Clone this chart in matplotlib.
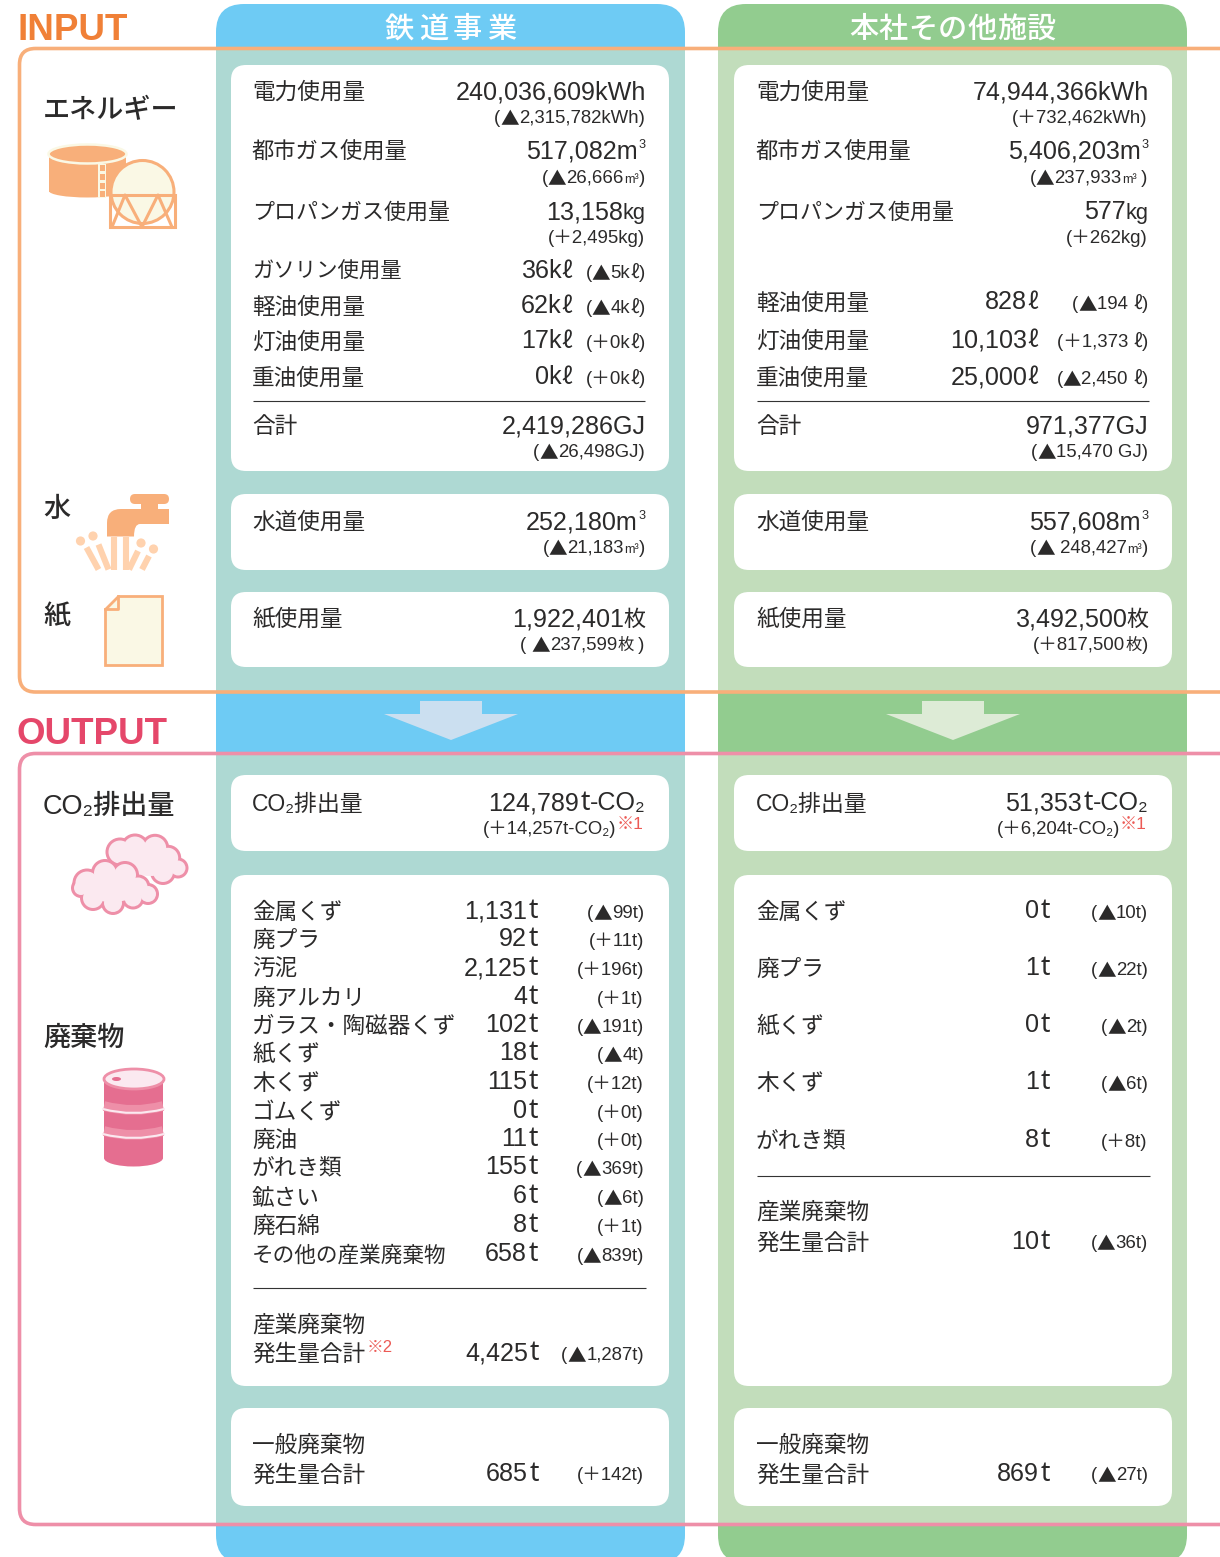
import re
import matplotlib
matplotlib.use("Agg")
import matplotlib.pyplot as plt
from matplotlib.patches import FancyBboxPatch, Rectangle, Polygon, Circle, Ellipse, PathPatch
from matplotlib.path import Path

# ---------- data ----------
headers = ["鉄道事業", "本社その他施設"]
energy_labels_rail = ["電力使用量", "都市ガス使用量", "プロパンガス使用量", "ガソリン使用量", "軽油使用量", "灯油使用量", "重油使用量", "合計"]
energy_values_rail = ["240,036,609kWh", "517,082m³", "13,158kg", "36kℓ", "62kℓ", "17kℓ", "0kℓ", "2,419,286GJ"]
energy_diffs_rail = ["(▲2,315,782kWh)", "(▲26,666m³)", "(＋2,495kg)", "(▲5kℓ)", "(▲4kℓ)", "(＋0kℓ)", "(＋0kℓ)", "(▲26,498GJ)"]
energy_labels_office = ["電力使用量", "都市ガス使用量", "プロパンガス使用量", "軽油使用量", "灯油使用量", "重油使用量", "合計"]
energy_values_office = ["74,944,366kWh", "5,406,203m³", "577kg", "828ℓ", "10,103ℓ", "25,000ℓ", "971,377GJ"]
energy_diffs_office = ["(＋732,462kWh)", "(▲237,933m³ )", "(＋262kg)", "(▲194 ℓ)", "(＋1,373 ℓ)", "(▲2,450 ℓ)", "(▲15,470 GJ)"]
water_label = "水道使用量"
water_values = ["252,180m³", "557,608m³"]
water_diffs = ["(▲21,183m³)", "(▲ 248,427m³)"]
paper_label = "紙使用量"
paper_values = ["1,922,401枚", "3,492,500枚"]
paper_diffs = ["( ▲237,599枚 )", "(＋817,500枚)"]
co2_label = "CO₂排出量"
co2_values = ["124,789t-CO₂", "51,353t-CO₂"]
co2_diffs = ["(＋14,257t-CO₂)", "(＋6,204t-CO₂)"]
co2_note = "※1"
waste_labels_rail = ["金属くず", "廃プラ", "汚泥", "廃アルカリ", "ガラス・陶磁器くず", "紙くず", "木くず", "ゴムくず", "廃油", "がれき類", "鉱さい", "廃石綿", "その他の産業廃棄物"]
waste_values_rail = ["1,131t", "92t", "2,125t", "4t", "102t", "18t", "115t", "0t", "11t", "155t", "6t", "8t", "658t"]
waste_diffs_rail = ["(▲99t)", "(＋11t)", "(＋196t)", "(＋1t)", "(▲191t)", "(▲4t)", "(＋12t)", "(＋0t)", "(＋0t)", "(▲369t)", "(▲6t)", "(＋1t)", "(▲839t)"]
waste_labels_office = ["金属くず", "廃プラ", "紙くず", "木くず", "がれき類"]
waste_values_office = ["0t", "1t", "0t", "1t", "8t"]
waste_diffs_office = ["(▲10t)", "(▲22t)", "(▲2t)", "(▲6t)", "(＋8t)"]
ind_title = ["産業廃棄物", "発生量合計"]
ind_values = ["4,425t", "10t"]
ind_diffs = ["(▲1,287t)", "(▲36t)"]
gen_title = ["一般廃棄物", "発生量合計"]
gen_values = ["685t", "869t"]
gen_diffs = ["(＋142t)", "(▲27t)"]
side_labels = ["エネルギー", "水", "紙", "CO₂排出量", "廃棄物"]

# ---------- layout ----------
W, H = 1220, 1557
fig = plt.figure(figsize=(W / 100, H / 100), dpi=100, facecolor="white")
ax = fig.add_axes([0, 0, 1, 1])
ax.set_xlim(0, W)
ax.set_ylim(H, 0)
ax.axis("off")
INK = "#2b2a2a"
LAT = ["Liberation Sans", "Noto Sans CJK JP"]
CJK = ["Noto Sans CJK JP", "DejaVu Sans"]
ORANGE, PINK = "#F8AF7A", "#EE8FA8"
CREAM = "#FAF8E5"
LIGHTPINK = "#FBE9F0"
LBL, BIG, SMALL = 16.3, 18.1, 13.4
# kana is set tighter in the reference, so these labels run a little narrower
LABEL_SCALE = {"プロパンガス使用量": 0.972, "その他の産業廃棄物": 0.955, "都市ガス使用量": 0.985, "ガソリン使用量": 0.945}
rend = fig.canvas.get_renderer()


def px(pt):
    return pt * 100 / 72


def label(x, y, s, size=LBL, color=INK, weight="normal"):
    fam = LAT if s.startswith("CO") else CJK
    sz = size * LABEL_SCALE.get(s, 1)
    ax.text(x - 1, y + 0.38 * px(size), s, family=fam, fontsize=sz, color=color, weight=weight, va="baseline", ha="left", zorder=6)


def value(xr, y, s, size=BIG, color=INK):
    """Right aligned numeric text; symbols and units the reference sets differently become their own run."""
    big = size >= BIG - 0.1
    pattern = r"(▲|ℓ|枚|kg$|³|t(?=-CO)|t$)" if big else r"(▲|ℓ|枚|m³)"
    parts = [p for p in re.split(pattern, s) if p]
    base = y + 0.358 * px(size) - (0.7 if big else 0.0)
    x = xr + 0.8
    for p in reversed(parts):
        fam, scale, dy, pad = LAT, 1.0, 0.0, 0.0
        txt = p
        if p == "▲":
            fam, dy = CJK, -0.13 * px(size)
        elif p == "ℓ":
            fam, scale = CJK, 0.92 if big else 1.0
        elif p == "枚":
            fam, scale = CJK, 0.88
        elif p == "m³":
            scale = 0.68
        elif p == "kg":
            scale = 0.87
        elif p == "³":
            txt, scale, dy, pad = "3", 0.5, 0.4 * px(size), 1.5
        elif p == "t" and big:
            fam, scale, pad = ["Noto Sans"], 1.05, 1.4
        t = ax.text(x, base - dy, txt, family=fam, fontsize=size * scale, color=color, ha="right", va="baseline", zorder=6)
        x -= t.get_window_extent(rend).width + pad


def box(x0, y0, x1, y1, r=15, fc="white", z=3):
    ax.add_patch(FancyBboxPatch((x0, y0), x1 - x0, y1 - y0, boxstyle=f"round,pad=0,rounding_size={r}",
                                fc=fc, ec="none", zorder=z))


def frame(y0, y1, color, r=16, xl=19.5):
    verts = [(W + 5, y0), (xl + r, y0), (xl, y0), (xl, y0 + r), (xl, y1 - r), (xl, y1), (xl + r, y1), (W + 5, y1)]
    codes = [Path.MOVETO, Path.LINETO, Path.CURVE3, Path.CURVE3, Path.LINETO, Path.CURVE3, Path.CURVE3, Path.LINETO]
    ax.add_patch(PathPatch(Path(verts, codes), fc="none", ec=color, lw=2.6, zorder=5))


# columns
COLS = [(216, 685, "#6ECBF4", "#AED9D3", "#CBDFF0", 15), (718, 1187, "#92CC8F", "#C2DDBB", "#DDEBD6", 16)]
BOXES = [(65, 471), (494, 570), (592, 667), (775, 851), (875, 1386), (1408, 1506)]
for x0, x1, outer, inner, arrow, inset in COLS:
    box(x0, 4, x1, H + 6, r=28, fc=outer, z=1)
    ax.add_patch(Rectangle((x0, 48), x1 - x0, 644, fc=inner, ec="none", zorder=2))
    ax.add_patch(Rectangle((x0, 754), x1 - x0, 771, fc=inner, ec="none", zorder=2))
    c = (x0 + x1) / 2 + 0.5
    ax.add_patch(Polygon([(c - 31, 701), (c + 31, 701), (c + 31, 714), (c + 67, 714), (c, 740), (c - 67, 714), (c - 31, 714)],
                         fc=arrow, ec="none", zorder=3))
    for y0, y1 in BOXES:
        box(x0 + inset, y0, x0 + inset + 438, y1)

frame(48.5, 692, ORANGE)
frame(753.5, 1524.5, PINK)

# titles
ax.text(17, 39.5, "INPUT", family="Liberation Sans", weight="bold", fontsize=26.5, color="#F08037", va="baseline", zorder=6)
ax.text(17, 743.5, "OUTPUT", family="Liberation Sans", weight="bold", fontsize=26.5, color="#E5476A", va="baseline", zorder=6)
for i, (xs, step, sz) in enumerate([(399.5, 34.0, 21), (863.5, 29.6, 21)]):
    for j, ch in enumerate(headers[i]):
        ax.text(xs + j * step, 26, ch, family=CJK, fontsize=sz, color="white", weight="medium", ha="center", va="center_baseline", zorder=6)

# left labels
SIDE_Y = [108, 507, 614, 804, 1035]
for s, y in zip(side_labels, SIDE_Y):
    label(44, y, s, size=19.5, weight="medium")

# rows, railway
LX, VR, DR = 253, 645, 644
E_LY = [90, 150, 210, 269, 305, 340, 376, 424]
E_VY = [91, 150, 211, 270, 305, 340, 376, 425]
E_DY = [116, 176, 236, 271, 306, 341, 377, 450]
E_VR = [645, 645, 645, 571, 571, 571, 571, 645]
for l, v, d, ly, vy, dy, vr in zip(energy_labels_rail, energy_values_rail, energy_diffs_rail, E_LY, E_VY, E_DY, E_VR):
    label(LX, ly, l)
    value(vr, vy, v)
    value(DR, dy, d, SMALL)

# rows, office
OX = 504
O_LY = [90, 150, 210, 301, 339, 376, 424]
O_VY = [91, 150, 211, 301, 339, 376, 425]
O_DY = [116, 176, 236, 302, 340, 377, 450]
O_VR = [1148, 1148, 1148, 1037, 1037, 1037, 1148]
for l, v, d, ly, vy, dy, vr in zip(energy_labels_office, energy_values_office, energy_diffs_office, O_LY, O_VY, O_DY, O_VR):
    label(LX + OX, ly, l)
    value(vr, vy, v)
    value(DR + 503, dy, d, SMALL)

for k, off in enumerate([0, OX]):
    ax.plot([253 + off, 645 + off], [400.5, 400.5], color="#333333", lw=0.8, zorder=6, solid_capstyle="butt")
    vr = VR + (503 if k else 0)
    dr = DR + (503 if k else 0)
    label(LX + off, 520, water_label)
    value(vr, 521, water_values[k])
    value(dr, 546, water_diffs[k], SMALL)
    label(LX + off, 617, paper_label)
    value(vr, 618, paper_values[k])
    value(dr, 643, paper_diffs[k], SMALL)
    label(LX + off, 802, co2_label, size=16.5)
    value(vr, 802, co2_values[k])
    value(dr - 28, 827, co2_diffs[k], 13.3)
    value(dr - 1, 823, co2_note, 12.4, color="#EC5A55")

    # general waste
    label(LX + off, 1443, gen_title[0])
    label(LX + off, 1473, gen_title[1])
    value(538 + (511 if k else 0), 1473, gen_values[k])
    value(dr - 1 if not k else dr, 1473, gen_diffs[k], SMALL)

# waste, railway
W_Y = [910, 938, 967, 996, 1024, 1052, 1081, 1110, 1138, 1166, 1195, 1224, 1253]
for l, v, d, y in zip(waste_labels_rail, waste_values_rail, waste_diffs_rail, W_Y):
    label(LX, y, l)
    value(537, y, v)
    value(643, y + 1, d, SMALL)
ax.plot([253, 646], [1287.5, 1287.5], color="#333333", lw=0.8, zorder=6, solid_capstyle="butt")
label(LX, 1323, ind_title[0])
label(LX, 1352, ind_title[1])
ax.text(367, 1352, "※2", family=LAT, fontsize=12, color="#EC5A55", va="baseline", zorder=6)
value(538, 1352, ind_values[0])
value(643, 1353, ind_diffs[0], SMALL)

# waste, office
WO_Y = [910, 967, 1024, 1081, 1139]
for l, v, d, y in zip(waste_labels_office, waste_values_office, waste_diffs_office, WO_Y):
    label(LX + OX, y, l)
    value(1049, y, v)
    value(1147, y + 1, d, SMALL)
ax.plot([757, 1150], [1175.5, 1175.5], color="#333333", lw=0.8, zorder=6, solid_capstyle="butt")
label(LX + OX, 1210, ind_title[0])
label(LX + OX, 1241, ind_title[1])
value(1049, 1241, ind_values[1])
value(1147, 1241, ind_diffs[1], SMALL)

# ---------- icons ----------
Z = 4
# gas holder
ax.add_patch(Rectangle((49, 154), 77, 38, fc=ORANGE, ec="none", zorder=Z))
ax.add_patch(Ellipse((87.5, 191), 77, 13, fc=ORANGE, ec="none", zorder=Z))
ax.add_patch(Ellipse((87.5, 154), 78, 19, fc=ORANGE, ec=CREAM, lw=1.8, zorder=Z))
ax.add_patch(Rectangle((98, 164), 8, 34, fc=CREAM, ec="none", zorder=Z))
for yy in [165, 174, 183, 191]:
    ax.add_patch(Rectangle((100, yy), 5, 5.5, fc=ORANGE, ec="none", zorder=Z))
# sphere
ax.add_patch(Circle((142.5, 192), 31.5, fc=CREAM, ec=ORANGE, lw=2.2, zorder=Z + 0.1))
ax.add_patch(Rectangle((109.5, 195), 65, 32, fc="none", ec=ORANGE, lw=2.2, zorder=Z + 0.2))
ax.plot([112, 125, 142, 158, 172], [227, 195, 227, 195, 227], color=ORANGE, lw=2.2, zorder=Z + 0.2)

# faucet
ax.add_patch(FancyBboxPatch((130, 494), 39, 10, boxstyle="round,pad=0,rounding_size=5", fc=ORANGE, ec="none", zorder=Z))
ax.add_patch(Rectangle((141, 503), 17, 8, fc=ORANGE, ec="none", zorder=Z))
ax.add_patch(PathPatch(Path([(107, 536.5), (107, 523), (107, 509), (121, 509), (169, 509), (169, 524), (140, 524), (134, 524), (134, 536.5), (107, 536.5)],
                            [Path.MOVETO, Path.LINETO, Path.CURVE3, Path.CURVE3, Path.LINETO, Path.LINETO, Path.LINETO, Path.CURVE3, Path.CURVE3, Path.CLOSEPOLY]),
                       fc=ORANGE, ec="none", zorder=Z))
WATER = "#FFD2AE"
for (xa, ya), (xb, yb) in [((114, 537), (114, 569.5)), ((126, 537), (126, 569.5)), ((98.5, 544.5), (108.5, 569.5)),
                           ((86.5, 547.5), (98.5, 569.5)), ((138, 551), (129, 569.5)), ((149, 556), (142, 569.5))]:
    ax.plot([xa, xb], [ya, yb], color=WATER, lw=4.4, solid_capstyle="butt", zorder=Z)
for xy in [(80.5, 541), (93, 536), (141, 543), (153.5, 549)]:
    ax.add_patch(Circle(xy, 4.6, fc=WATER, ec="none", zorder=Z))

# paper
ax.add_patch(Polygon([(118, 595.5), (161.5, 595.5), (161.5, 664.5), (104.5, 664.5), (104.5, 609)], closed=True, fc=CREAM, ec=ORANGE, lw=2, zorder=Z))
ax.plot([104.5, 118, 118], [609, 609, 595.5], color=ORANGE, lw=2, zorder=Z)


# clouds: outline circles first, fill circles on top, an ellipse closes the middle
def cloud(circles, middle):
    for x, y, r in circles:
        ax.add_patch(Circle((x, y), r + 1.5, fc=PINK, ec="none", zorder=Z))
    for x, y, r in circles:
        ax.add_patch(Circle((x, y), r - 1.5, fc=LIGHTPINK, ec="none", zorder=Z))
    ax.add_patch(Ellipse(middle[:2], middle[2], middle[3], fc=LIGHTPINK, ec="none", zorder=Z))


cloud([(120, 852, 13), (135, 848, 13), (155, 848, 12.7), (168, 858, 11.7), (178, 868, 9), (163, 872, 11.5)], (150, 862, 54, 28))
cloud([(87, 883, 13), (105, 873, 12.5), (125, 875, 12.5), (138, 887, 11), (148, 894, 9.5), (133, 898, 10), (113, 903, 10.5), (93, 898, 11.5), (81, 888, 8.5)], (112, 888, 56, 28))

# barrel
BAR, BAND = "#E56E90", PINK
ax.add_patch(Rectangle((104, 1079), 59, 79, fc=BAR, ec="none", zorder=Z))
ax.add_patch(Ellipse((133.5, 1158), 59, 17, fc=BAR, ec="none", zorder=Z))
for yb in [1105, 1130]:
    band = Path([(104, yb + 1), (133.5, yb + 9), (163, yb + 1)], [Path.MOVETO, Path.CURVE3, Path.CURVE3])
    ax.add_patch(PathPatch(band, fc="none", ec=BAND, lw=7, capstyle="butt", zorder=Z))
    line = Path([(103, yb + 4), (133.5, yb + 12), (164, yb + 4)], [Path.MOVETO, Path.CURVE3, Path.CURVE3])
    ax.add_patch(PathPatch(line, fc="none", ec=LIGHTPINK, lw=1.5, capstyle="round", zorder=Z + 0.1))
ax.add_patch(Ellipse((134, 1079), 60, 20, fc=LIGHTPINK, ec=BAND, lw=2, zorder=Z + 0.2))
ax.add_patch(Ellipse((116.5, 1079), 9, 4, fc=BAR, ec="none", zorder=Z + 0.3))

fig.savefig("out.png", dpi=100, facecolor="white")
